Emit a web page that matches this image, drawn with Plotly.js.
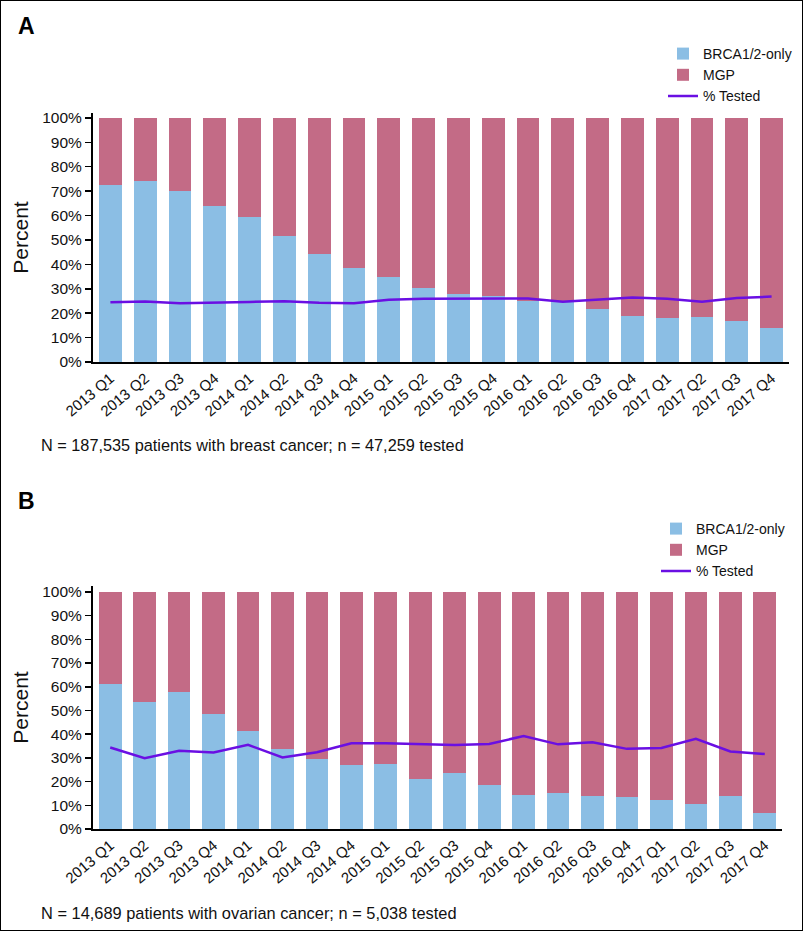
<!DOCTYPE html>
<html>
<head>
<meta charset="utf-8">
<script src="https://cdn.plot.ly/plotly-3.0.1.min.js"></script>
<style>html,body{margin:0;padding:0;background:#fff;}#chart{width:803px;height:931px;}</style>
</head>
<body>
<div id="chart"></div>
<script>
const quarters = ["2013 Q1","2013 Q2","2013 Q3","2013 Q4","2014 Q1","2014 Q2","2014 Q3","2014 Q4",
  "2015 Q1","2015 Q2","2015 Q3","2015 Q4","2016 Q1","2016 Q2","2016 Q3","2016 Q4",
  "2017 Q1","2017 Q2","2017 Q3","2017 Q4"];

// Panel A: breast cancer
const brcaA = [72.7,74.0,70.0,64.1,59.2,51.8,44.4,38.5,34.9,30.4,27.9,27.1,24.8,24.5,21.8,19.0,17.9,18.4,17.0,14.1];
const mgpA = brcaA.map(v => 100 - v);
const testedA = [24.5,24.8,24.1,24.5,24.6,24.9,24.3,24.1,25.5,25.9,25.9,26.2,26.0,24.7,25.5,26.4,25.9,24.7,26.2,26.8];

// Panel B: ovarian cancer
const brcaB = [61.3,53.5,57.8,48.3,41.3,33.7,29.6,26.9,27.3,21.1,23.5,18.6,14.2,15.1,13.8,13.3,12.1,10.7,13.9,6.9];
const mgpB = brcaB.map(v => 100 - v);
const testedB = [34.4,29.9,33.0,32.3,35.5,30.2,32.4,36.2,36.2,35.7,35.4,35.9,39.2,35.7,36.6,33.8,34.2,38.0,32.7,31.6];

const yTickVals = [0,10,20,30,40,50,60,70,80,90,100];
const yTickText = ["0%","10%","20%","30%","40%","50%","60%","70%","80%","90%","100%"];

const captionA = "N = 187,535 patients with breast cancer; n = 47,259 tested";
const captionB = "N = 14,689 patients with ovarian cancer; n = 5,038 tested";

const BLUE = "#8bbee4", PINK = "#c36b86", PURPLE = "#6a0fe3";
const FONT = "Liberation Sans, Arial, Helvetica, sans-serif";
const W = 803, H = 931;
const px = v => v / W, py = v => 1 - v / H;

const traces = [
  {type:"bar", x:quarters, y:brcaA, name:"BRCA1/2-only", marker:{color:BLUE}, xaxis:"x", yaxis:"y", legend:"legend"},
  {type:"bar", x:quarters, y:mgpA, name:"MGP", marker:{color:PINK}, xaxis:"x", yaxis:"y", legend:"legend"},
  {type:"scatter", mode:"lines", x:quarters, y:testedA, name:"% Tested", line:{color:PURPLE, width:2.5}, xaxis:"x", yaxis:"y", legend:"legend"},
  {type:"bar", x:quarters, y:brcaB, name:"BRCA1/2-only", marker:{color:BLUE}, xaxis:"x2", yaxis:"y2", legend:"legend2"},
  {type:"bar", x:quarters, y:mgpB, name:"MGP", marker:{color:PINK}, xaxis:"x2", yaxis:"y2", legend:"legend2"},
  {type:"scatter", mode:"lines", x:quarters, y:testedB, name:"% Tested", line:{color:PURPLE, width:2.5}, xaxis:"x2", yaxis:"y2", legend:"legend2"}
];

function xAxis(d0, d1, anchor){
  return {domain:[px(d0), px(d1)], anchor:anchor, type:"category", range:[-0.5,19.5],
    showline:true, linecolor:"#000", linewidth:2, ticks:"", tickangle:-40,
    tickfont:{family:FONT, size:15, color:"#111"}, showgrid:false, zeroline:false, fixedrange:true};
}
function yAxis(top, bottom, rmax, anchor){
  return {domain:[py(bottom), py(top)], anchor:anchor, range:[0, rmax],
    tickvals:yTickVals, ticktext:yTickText, ticks:"outside", ticklen:6, tickwidth:1.5, tickcolor:"#000",
    showline:true, linecolor:"#000", linewidth:2, showgrid:false, zeroline:false,
    tickfont:{family:FONT, size:15.5, color:"#111"},
    title:{text:"Percent", font:{family:FONT, size:21, color:"#111"}, standoff:8}, fixedrange:true};
}

const legendCommon = {font:{family:FONT, size:14, color:"#111"}, bgcolor:"rgba(0,0,0,0)", xanchor:"left", yanchor:"top", tracegroupgap:0, traceorder:"normal"};

const layout = {
  width:W, height:H, margin:{l:0, r:0, t:0, b:0},
  paper_bgcolor:"#fff", plot_bgcolor:"#fff",
  barmode:"stack", bargap:0.34,
  showlegend:true,
  xaxis: xAxis(93, 789, "y"),
  yaxis: yAxis(113, 362, 102, "x"),
  xaxis2: xAxis(93, 782, "y2"),
  yaxis2: yAxis(586, 829, 102.5, "x2"),
  legend: Object.assign({x:px(663), y:py(38)}, legendCommon),
  legend2: Object.assign({x:px(656), y:py(513)}, legendCommon),
  annotations: [
    {text:"<b>A</b>", x:px(16), y:py(26), xref:"paper", yref:"paper", xanchor:"left", yanchor:"middle", showarrow:false, font:{family:FONT, size:23, color:"#000"}},
    {text:"<b>B</b>", x:px(16), y:py(501), xref:"paper", yref:"paper", xanchor:"left", yanchor:"middle", showarrow:false, font:{family:FONT, size:23, color:"#000"}},
    {text:captionA, x:px(39), y:py(445), xref:"paper", yref:"paper", xanchor:"left", yanchor:"middle", showarrow:false, font:{family:FONT, size:16.3, color:"#111"}},
    {text:captionB, x:px(39), y:py(913), xref:"paper", yref:"paper", xanchor:"left", yanchor:"middle", showarrow:false, font:{family:FONT, size:16.4, color:"#111"}}
  ],
  shapes: [
    {type:"rect", xref:"paper", yref:"paper", x0:0, x1:1, y0:0, y1:1, line:{color:"#000", width:2}, fillcolor:"rgba(0,0,0,0)"}
  ]
};

Plotly.newPlot("chart", traces, layout, {displayModeBar:false, staticPlot:true});
</script>
</body>
</html>
